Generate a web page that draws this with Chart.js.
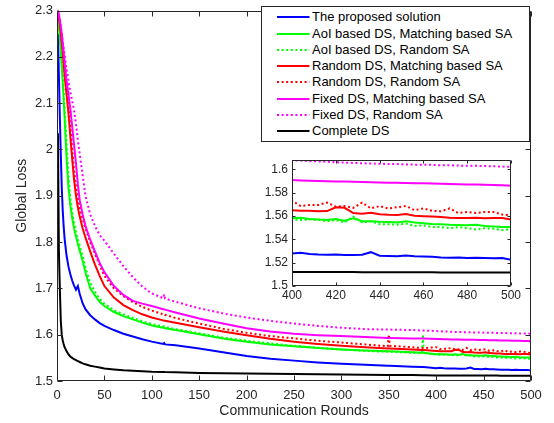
<!DOCTYPE html>
<html><head><meta charset="utf-8">
<script src="https://cdn.jsdelivr.net/npm/chart.js@4/dist/chart.umd.min.js"></script>
<style>
html,body{margin:0;padding:0;background:#fff;}
#wrap{position:relative;width:554px;height:423px;overflow:hidden;font-family:Arial,"Liberation Sans",Helvetica,sans-serif;}
#main{position:absolute;left:0;top:0;}
#insetBox{position:absolute;left:250px;top:150px;width:280px;height:160px;}
#legend{position:absolute;left:261px;top:6px;width:269px;height:136px;box-sizing:border-box;border:1px solid #262626;background:#fff;}
.row{position:absolute;left:50px;height:16px;line-height:16px;font-size:13px;color:#000;white-space:nowrap;}
</style></head>
<body>
<div id="wrap">
<canvas id="main" width="554" height="423"></canvas>
<div id="insetBox"><canvas id="inset" width="280" height="160"></canvas></div>
<div id="legend"></div>
</div>
<script>
// ---- data ----
const rounds = [1,2,3,4,5,6,7,8,10,12,14,16,18,20,22,24,27,30,35,40,45,50,60,70,80,90,100,112,113,114,125,150,175,200,225,250,275,300,325,349,350,351,375,385,386,387,
  400,404,408,412,416,420,424,428,432,436,440,444,448,452,456,460,464,468,472,476,480,484,488,492,496,500];

const proposed = [2.25,2.16,2.07,1.99,1.92,1.87,1.835,1.808,1.772,1.748,1.731,1.717,1.706,1.697,1.705,1.688,1.668,1.655,1.642,1.633,1.625,1.619,1.61,1.602,1.596,1.59,1.585,1.58,1.582,1.579,1.577,1.57,1.562,1.554,1.548,1.544,1.540,1.537,1.535,1.533,1.533,1.533,1.531,1.530,1.530,1.530,
  1.5278,1.5285,1.5275,1.527,1.5268,1.527,1.5265,1.5265,1.5268,1.529,1.526,1.5258,1.5255,1.5262,1.5255,1.5252,1.525,1.5245,1.5242,1.5245,1.524,1.5243,1.524,1.5238,1.524,1.5225];

const aoiMatching = [2.29,2.265,2.24,2.21,2.18,2.145,2.11,2.07,1.985,1.92,1.88,1.852,1.83,1.812,1.796,1.781,1.76,1.735,1.70,1.685,1.671,1.662,1.649,1.64,1.633,1.626,1.62,1.615,1.615,1.614,1.61,1.601,1.592,1.585,1.579,1.575,1.571,1.568,1.566,1.564,1.564,1.564,1.562,1.561,1.561,1.561,
  1.558,1.5585,1.5575,1.557,1.5565,1.5575,1.556,1.558,1.5555,1.5555,1.555,1.5548,1.5545,1.5555,1.5545,1.5538,1.5532,1.553,1.5525,1.5522,1.552,1.5525,1.5515,1.551,1.5505,1.5505];

const aoiRandom = [2.29,2.27,2.25,2.225,2.195,2.165,2.13,2.095,2.015,1.945,1.895,1.865,1.842,1.823,1.806,1.791,1.77,1.745,1.712,1.693,1.677,1.667,1.653,1.644,1.636,1.629,1.623,1.618,1.618,1.617,1.612,1.603,1.594,1.587,1.581,1.576,1.572,1.568,1.565,1.563,1.563,1.563,1.561,1.560,1.600,1.560,
  1.557,1.5565,1.557,1.5568,1.5555,1.5565,1.5545,1.5595,1.5545,1.5555,1.553,1.553,1.5525,1.5535,1.5515,1.552,1.5505,1.5505,1.5495,1.5505,1.5495,1.5485,1.5495,1.549,1.548,1.5485];

const randMatching = [2.30,2.285,2.27,2.25,2.23,2.21,2.185,2.16,2.12,2.08,2.03,1.98,1.935,1.90,1.875,1.855,1.83,1.81,1.78,1.752,1.727,1.705,1.68,1.664,1.653,1.644,1.637,1.631,1.630,1.630,1.626,1.616,1.607,1.599,1.591,1.585,1.58,1.576,1.573,1.570,1.570,1.570,1.568,1.567,1.567,1.567,
  1.565,1.5645,1.5645,1.564,1.5642,1.5675,1.567,1.5625,1.562,1.5628,1.5615,1.561,1.5608,1.5618,1.5602,1.5598,1.5595,1.5592,1.5585,1.5582,1.5582,1.5585,1.558,1.5582,1.5583,1.557];

const randRandom = [2.30,2.29,2.275,2.26,2.24,2.22,2.195,2.175,2.135,2.095,2.05,2.0,1.955,1.92,1.895,1.875,1.85,1.83,1.80,1.775,1.75,1.727,1.70,1.683,1.67,1.66,1.652,1.644,1.645,1.643,1.636,1.624,1.613,1.604,1.597,1.592,1.587,1.583,1.579,1.575,1.600,1.576,1.573,1.571,1.571,1.571,
  1.573,1.5685,1.5695,1.5695,1.5715,1.568,1.5685,1.567,1.5715,1.5665,1.5685,1.5665,1.5675,1.5685,1.565,1.5665,1.5645,1.564,1.5665,1.5625,1.5635,1.5625,1.5635,1.5635,1.5612,1.5605];

const fixedMatching = [2.30,2.29,2.28,2.265,2.25,2.23,2.21,2.19,2.15,2.12,2.09,2.05,2.01,1.97,1.925,1.89,1.86,1.835,1.805,1.78,1.755,1.735,1.705,1.686,1.673,1.667,1.662,1.655,1.655,1.654,1.648,1.635,1.624,1.614,1.607,1.602,1.599,1.597,1.595,1.593,1.593,1.593,1.592,1.5915,1.5915,1.5915,
  1.5908,1.5905,1.5902,1.59,1.5898,1.5896,1.5895,1.5893,1.5891,1.589,1.5888,1.5886,1.5885,1.5883,1.5881,1.588,1.5878,1.5876,1.5875,1.5873,1.5871,1.587,1.5868,1.5866,1.5864,1.586];

const fixedRandom = [2.30,2.29,2.28,2.265,2.25,2.235,2.22,2.205,2.175,2.15,2.125,2.105,2.085,2.055,2.02,1.99,1.945,1.90,1.86,1.835,1.815,1.803,1.775,1.748,1.724,1.704,1.689,1.679,1.687,1.678,1.671,1.657,1.646,1.637,1.630,1.624,1.619,1.615,1.612,1.611,1.611,1.611,1.610,1.609,1.609,1.609,
  1.6078,1.6075,1.607,1.6068,1.6065,1.606,1.6058,1.6055,1.6052,1.605,1.6048,1.6045,1.6045,1.6042,1.604,1.604,1.6038,1.6035,1.6035,1.6032,1.603,1.603,1.6028,1.6026,1.6024,1.6021];

const completeDS = [2.035,1.78,1.70,1.63,1.60,1.588,1.58,1.573,1.565,1.558,1.553,1.55,1.547,1.545,1.543,1.541,1.538,1.536,1.533,1.531,1.529,1.527,1.525,1.523,1.522,1.521,1.520,1.5195,1.5195,1.5194,1.519,1.5175,1.5165,1.516,1.5155,1.515,1.5145,1.514,1.5135,1.513,1.513,1.513,1.5127,1.5125,1.5125,1.5125,
  1.512,1.512,1.512,1.512,1.5119,1.5119,1.5119,1.5119,1.5118,1.5118,1.5118,1.5118,1.5117,1.5117,1.5117,1.5117,1.5117,1.5116,1.5116,1.5116,1.5116,1.5116,1.5115,1.5115,1.5115,1.5115];

const seriesNames = ['The proposed solution','AoI based DS, Matching based SA','AoI based DS, Random SA','Random DS, Matching based SA','Random DS, Random SA','Fixed DS, Matching based SA','Fixed DS, Random SA','Complete DS'];
const seriesValues = [proposed, aoiMatching, aoiRandom, randMatching, randRandom, fixedMatching, fixedRandom, completeDS];

const xTicksMain = [0,50,100,150,200,250,300,350,400,450,500];
const yTicksMain = [1.5,1.6,1.7,1.8,1.9,2.0,2.1,2.2,2.3];
const xTicksInset = [400,420,440,460,480,500];
const yTicksInset = [1.5,1.52,1.54,1.56,1.58,1.6];

// ---- styles ----
const DOT = [2, 2.6];
const seriesStyles = [
  {color:'#0000ff', dash:[]},
  {color:'#00ff00', dash:[]},
  {color:'#00ff00', dash:DOT},
  {color:'#ff0000', dash:[]},
  {color:'#ff0000', dash:DOT},
  {color:'#ff00ff', dash:[]},
  {color:'#ff00ff', dash:DOT},
  {color:'#000000', dash:[]}
];

const FONT = 'Arial, "Liberation Sans", Helvetica, sans-serif';
Chart.defaults.font.family = FONT;
Chart.defaults.color = '#262626';

function makeDatasets() {
  return seriesValues.map((vals, i) => ({
    label: seriesNames[i],
    data: rounds.map((r, k) => ({x: r, y: vals[k]})),
    borderColor: seriesStyles[i].color,
    borderDash: seriesStyles[i].dash,
    borderWidth: 2,
    borderCapStyle: 'butt',
    pointRadius: 0,
    tension: 0,
    fill: false,
    order: seriesValues.length - i
  }));
}

const boxPlugin = {
  id: 'boxTicks',
  beforeDraw(chart, args, opts) {
    if (opts.fill) {
      const a = chart.chartArea, ctx = chart.ctx;
      ctx.save(); ctx.fillStyle = opts.fill;
      ctx.fillRect(a.left, a.top, a.right - a.left, a.bottom - a.top);
      ctx.restore();
    }
  },
  afterDatasetsDraw(chart, args, opts) {
    const {ctx, chartArea: a} = chart;
    const xs = chart.scales.x, ys = chart.scales.y;
    const t = opts.len || 5;
    ctx.save();
    ctx.strokeStyle = '#262626'; ctx.lineWidth = 1; ctx.setLineDash([]);
    const L = Math.round(a.left) + 0.5, R = Math.round(a.right) - 0.5;
    const T = Math.round(a.top) + 0.5, B = Math.round(a.bottom) - 0.5;
    ctx.beginPath();
    ctx.rect(L, T, R - L, B - T);
    xs.ticks.forEach(tk => {
      const p = Math.round(xs.getPixelForValue(tk.value)) + 0.5;
      ctx.moveTo(p, B); ctx.lineTo(p, B - t);
      ctx.moveTo(p, T); ctx.lineTo(p, T + t);
    });
    ys.ticks.forEach(tk => {
      const p = Math.round(ys.getPixelForValue(tk.value)) + 0.5;
      ctx.moveTo(L, p); ctx.lineTo(L + t, p);
      ctx.moveTo(R, p); ctx.lineTo(R - t, p);
    });
    ctx.stroke();
    ctx.restore();
  }
};

const fmt = v => String(+Number(v).toFixed(2));

new Chart(document.getElementById('main'), {
  type: 'line',
  data: {datasets: makeDatasets()},
  plugins: [boxPlugin],
  options: {
    responsive: false, animation: false, devicePixelRatio: 1, events: [],
    layout: {padding: {left: 0, right: 23, top: 7, bottom: 0}},
    plugins: {legend: {display: false}, tooltip: {enabled: false}, boxTicks: {len: 5}},
    scales: {
      x: {
        type: 'linear', min: 0, max: 500,
        afterBuildTicks: s => { s.ticks = xTicksMain.map(v => ({value: v})); },
        afterFit: s => { s.height = 42; },
        grid: {display: false, drawTicks: false}, border: {display: false},
        ticks: {autoSkip: false, maxRotation: 0, padding: 8, font: {size: 13, lineHeight: 1}, color: '#262626', callback: fmt},
        title: {display: true, text: 'Communication Rounds', font: {size: 14}, color: '#262626', padding: {top: 0, bottom: 3}}
      },
      y: {
        type: 'linear', min: 1.5, max: 2.3,
        afterBuildTicks: s => { s.ticks = yTicksMain.map(v => ({value: v})); },
        afterFit: s => { s.width = 57; },
        grid: {display: false, drawTicks: false}, border: {display: false},
        ticks: {autoSkip: false, padding: 4, font: {size: 13, lineHeight: 1}, color: '#262626', callback: fmt},
        title: {display: true, text: 'Global Loss', font: {size: 14}, color: '#262626', padding: {top: 14, bottom: 0}}
      }
    }
  }
});

new Chart(document.getElementById('inset'), {
  type: 'line',
  data: {datasets: makeDatasets()},
  plugins: [boxPlugin],
  options: {
    responsive: false, animation: false, devicePixelRatio: 1, events: [],
    layout: {padding: {left: 0, right: 19, top: 7, bottom: 0}},
    plugins: {legend: {display: false}, tooltip: {enabled: false}, boxTicks: {len: 3, fill: '#ffffff'}},
    scales: {
      x: {
        type: 'linear', min: 400, max: 500,
        afterBuildTicks: s => { s.ticks = xTicksInset.map(v => ({value: v})); },
        afterFit: s => { s.height = 24; },
        grid: {display: false, drawTicks: false}, border: {display: false},
        ticks: {autoSkip: false, maxRotation: 0, padding: 4, font: {size: 12, lineHeight: 1}, color: '#262626', callback: fmt}
      },
      y: {
        type: 'linear', min: 1.5, max: 1.608,
        afterBuildTicks: s => { s.ticks = yTicksInset.map(v => ({value: v})); },
        afterFit: s => { s.width = 42; },
        grid: {display: false, drawTicks: false}, border: {display: false},
        ticks: {autoSkip: false, padding: 4, font: {size: 12, lineHeight: 1}, color: '#262626', callback: fmt}
      }
    }
  }
});

// ---- legend (HTML, real text) ----
(function buildLegend() {
  const el = document.getElementById('legend');
  const NS = 'http://www.w3.org/2000/svg';
  const svg = document.createElementNS(NS, 'svg');
  svg.setAttribute('width', '267'); svg.setAttribute('height', '134');
  svg.style.position = 'absolute'; svg.style.left = '0'; svg.style.top = '0';
  el.appendChild(svg);
  seriesNames.forEach((name, i) => {
    const cy = Math.round(10.3 + 16.25 * i);
    const ln = document.createElementNS(NS, 'line');
    ln.setAttribute('x1', '15'); ln.setAttribute('x2', '47.5');
    ln.setAttribute('y1', cy); ln.setAttribute('y2', cy);
    ln.setAttribute('stroke', seriesStyles[i].color);
    ln.setAttribute('stroke-width', '2');
    if (seriesStyles[i].dash.length) ln.setAttribute('stroke-dasharray', seriesStyles[i].dash.join(' '));
    svg.appendChild(ln);
    const row = document.createElement('div');
    row.className = 'row';
    row.style.top = (cy - 8) + 'px';
    row.textContent = name;
    el.appendChild(row);
  });
})();
</script>
</body></html>
